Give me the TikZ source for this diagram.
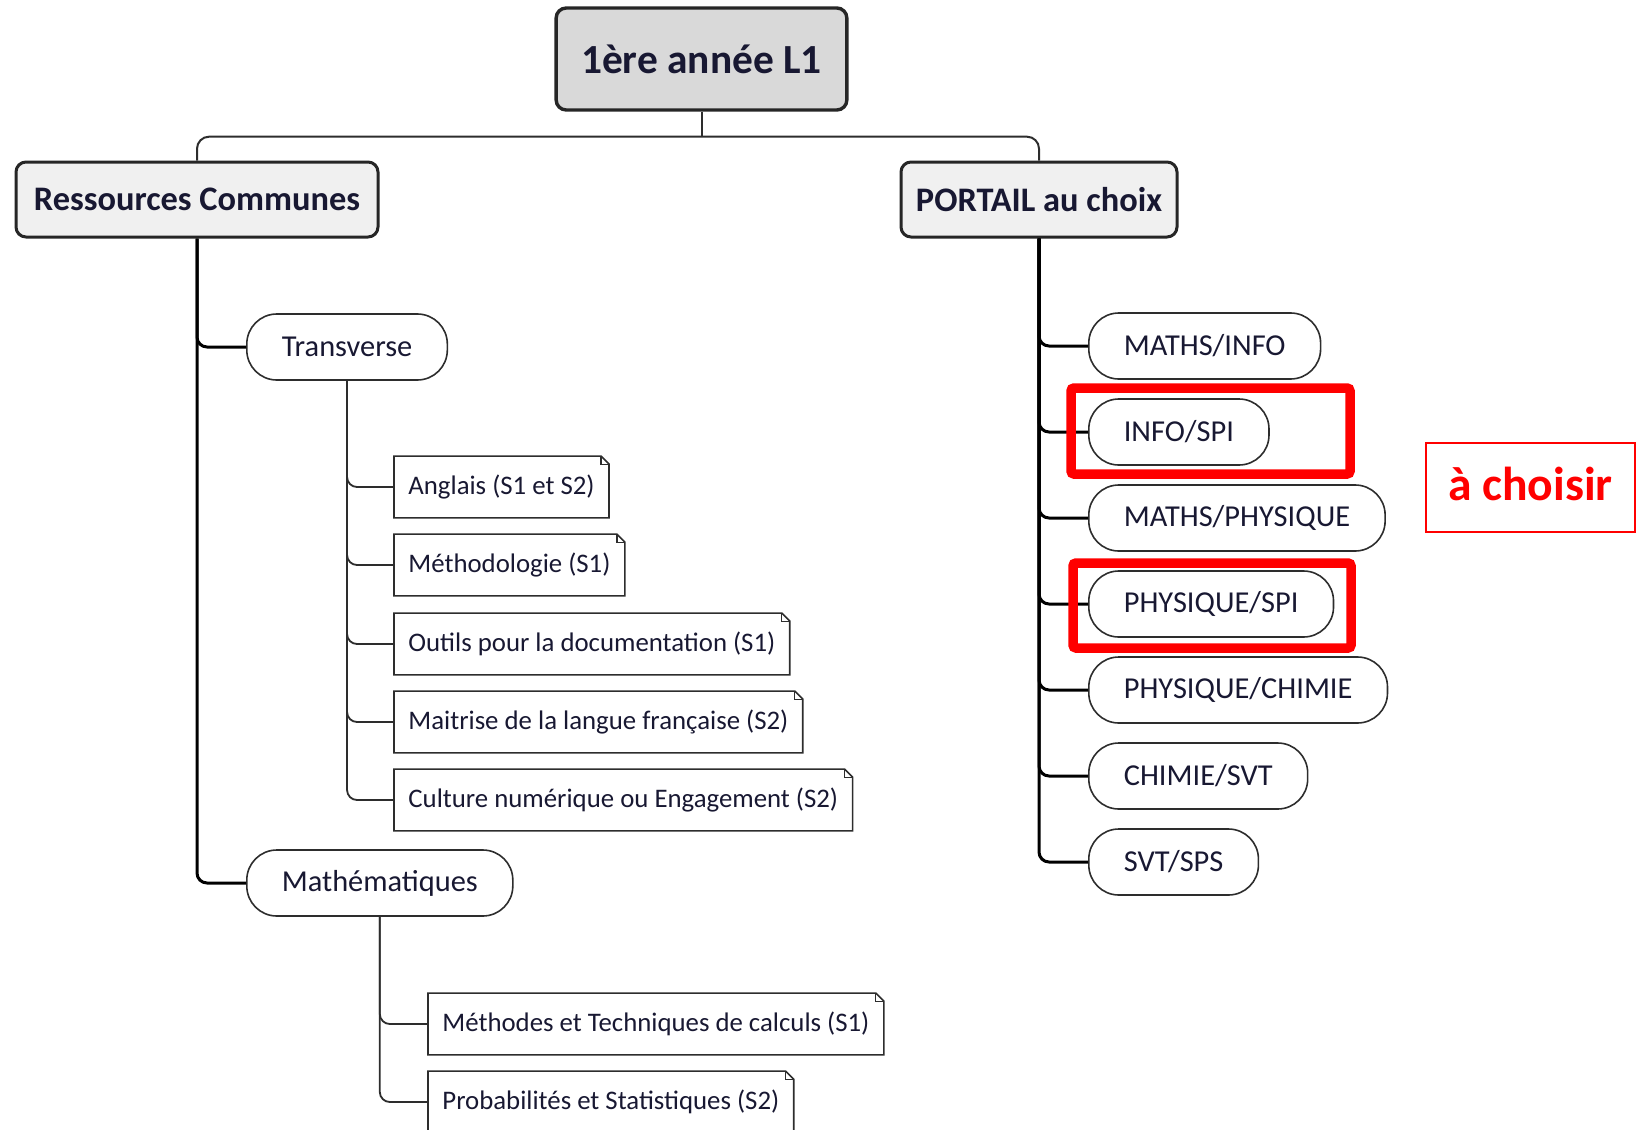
\documentclass[tikz,border=0pt]{standalone}
\usepackage{fontspec}
\setmainfont{Carlito}
\definecolor{txt}{RGB}{24,24,50}
\definecolor{edge}{RGB}{45,45,45}
\definecolor{rootgray}{RGB}{217,217,217}
\definecolor{headgray}{RGB}{240,240,240}
\tikzset{
  rootbox/.style={draw=black!85, line width=1.7pt, fill=rootgray, rounded corners=5pt,
    font=\fontsize{20.7}{24}\selectfont\bfseries, text=txt, minimum height=51pt, inner xsep=12.5pt},
  headbox/.style={draw=black!85, line width=1.5pt, fill=headgray, rounded corners=5pt,
    font=\fontsize{17.2}{20}\selectfont\bfseries, text=txt, minimum height=37.5pt},
  oval/.style={draw=edge, line width=0.8pt, rounded corners=15pt, anchor=west,
    font=\fontsize{15.2}{18}\selectfont, text=txt, minimum height=33pt, inner xsep=17.5pt},
  notebox/.style={anchor=west, font=\fontsize{13.4}{16}\selectfont, text=txt,
    minimum height=30.5pt, inner xsep=7pt,
    append after command={\pgfextra{\let\nb\tikzlastnode
      \draw[edge, line width=0.8pt] (\nb.south west) -- (\nb.north west)
        -- ([xshift=-4pt]\nb.north east) -- ([yshift=-4pt]\nb.north east)
        -- (\nb.south east) -- cycle;
      \draw[edge, line width=0.6pt] ([xshift=-4pt]\nb.north east) |- ([yshift=-4pt]\nb.north east);}}},
  trunk/.style={draw=black, line width=1.5pt, rounded corners=5pt},
  twig/.style={draw=edge, line width=0.9pt, rounded corners=5pt},
  pick/.style={draw=red, line width=4.75pt, rounded corners=1.5pt}
}
\begin{document}
\begin{tikzpicture}[x=0.5pt, y=-0.5pt]
  \useasboundingbox (0,0) rectangle (1636,1129);
  % top of the tree
  \node [rootbox] (root) at (701.5,59) {1ère année L1};
  \node [headbox, minimum width=181pt] (rc) at (197,199.5) {Ressources Communes};
  \node [headbox, minimum width=138pt] (pc) at (1039,199.5) {PORTAIL au choix};
  \draw [edge, line width=1pt] (root.south) -- ++(0,25) coordinate (fork);
  \draw [edge, line width=1pt, rounded corners=6pt] (rc.north) |- (fork) -| (pc.north);

  % ressources communes
  \node [oval] (trans) at (246,347) {Transverse};
  \node [oval] (maths) at (246,883) {Mathématiques};
  \draw [trunk] (rc.south) |- (trans.west);
  \draw [trunk] (rc.south) |- (maths.west);

  \node [notebox] (angl) at (394,487) {Anglais (S1 et S2)};
  \node [notebox] (meth) at (394,565) {Méthodologie (S1)};
  \node [notebox] (outi) at (394,644) {Outils pour la documentation (S1)};
  \node [notebox] (mait) at (394,722) {Maitrise de la langue française (S2)};
  \node [notebox] (cult) at (394,800) {Culture numérique ou Engagement (S2)};
  \draw [twig] (trans.south) |- (angl.west);
  \draw [twig] (trans.south) |- (meth.west);
  \draw [twig] (trans.south) |- (outi.west);
  \draw [twig] (trans.south) |- (mait.west);
  \draw [twig] (trans.south) |- (cult.west);

  \node [notebox] (calc) at (428,1024) {Méthodes et Techniques de calculs (S1)};
  \node [notebox] (proba) at (428,1102) {Probabilités et Statistiques (S2)};
  \draw [twig] (maths.south) |- (calc.west);
  \draw [twig] (maths.south) |- (proba.west);

  % portails
  \node [oval] (mi) at (1088,346) {MATHS/INFO};
  \node [oval] (is) at (1088,432) {INFO/SPI};
  \node [oval] (mp) at (1088,518) {MATHS/PHYSIQUE};
  \node [oval] (ps) at (1088,604) {PHYSIQUE/SPI};
  \node [oval] (pch) at (1088,690) {PHYSIQUE/CHIMIE};
  \node [oval] (cs) at (1088,776) {CHIMIE/SVT};
  \node [oval] (ss) at (1088,862) {SVT/SPS};
  \draw [trunk] (pc.south) |- (mi.west);
  \draw [trunk] (pc.south) |- (is.west);
  \draw [trunk] (pc.south) |- (mp.west);
  \draw [trunk] (pc.south) |- (ps.west);
  \draw [trunk] (pc.south) |- (pch.west);
  \draw [trunk] (pc.south) |- (cs.west);
  \draw [trunk] (pc.south) |- (ss.west);

  % choix
  \draw [pick] (1071,388) rectangle (1350,474);
  \draw [pick] (1073,563) rectangle (1351,648);
  \node [draw=red, line width=1pt, minimum width=104.5pt, minimum height=44.5pt, text=red,
    text depth=4pt, font=\fontsize{23.8}{28}\selectfont\bfseries] (choix) at (1530.5,487.5) {à choisir};
\end{tikzpicture}
\end{document}
